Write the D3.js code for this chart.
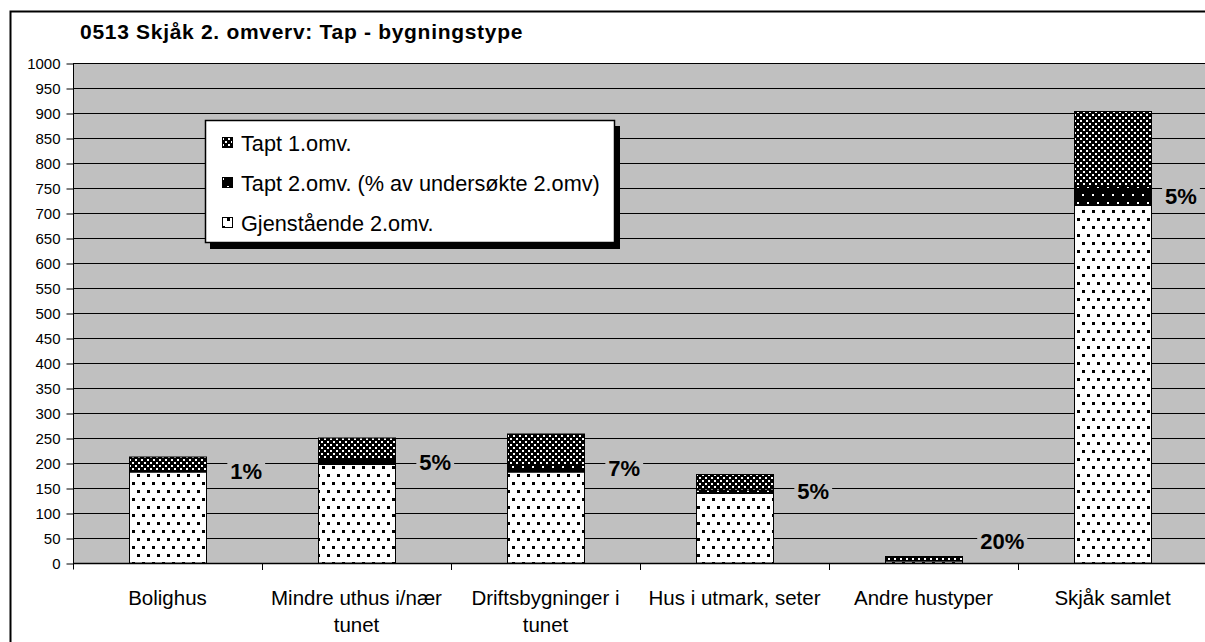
<!DOCTYPE html>
<html><head><meta charset="utf-8">
<script src="https://cdn.jsdelivr.net/npm/d3@7"></script>
<style>
html,body{margin:0;padding:0;background:#fff;}
svg{display:block;font-family:"Liberation Sans",Arial,sans-serif;}
</style></head>
<body><svg id="c" width="1205" height="642"></svg>
<script>
const title = "0513 Skjåk 2. omverv: Tap - bygningstype";
const categories = [["Bolighus"], ["Mindre uthus i/nær","tunet"], ["Driftsbygninger i","tunet"], ["Hus i utmark, seter"], ["Andre hustyper"], ["Skjåk samlet"]];
const gjenstaende = [182, 197, 182, 139, 4, 715];
const tapt2 = [2, 10, 14, 7, 1, 38];
const tapt1 = [28, 43, 62, 31, 8, 150];
const pctLabels = ["1%", "5%", "7%", "5%", "20%", "5%"];
const seriesNames = ["Tapt 1.omv.", "Tapt 2.omv. (% av undersøkte 2.omv)", "Gjenstående 2.omv."];
const yTicks = d3.range(0, 1001, 50);

const svg = d3.select("#c");
const defs = svg.append("defs");
// patterns
const pG = defs.append("pattern").attr("id","pG").attr("patternUnits","userSpaceOnUse").attr("width",10).attr("height",16);
pG.append("rect").attr("width",10).attr("height",16).attr("fill","#fff");
pG.append("rect").attr("x",2).attr("y",2).attr("width",3).attr("height",3).attr("fill","#000");
pG.append("rect").attr("x",7).attr("y",10).attr("width",3).attr("height",3).attr("fill","#000");
const p2 = defs.append("pattern").attr("id","p2").attr("patternUnits","userSpaceOnUse").attr("width",10).attr("height",16);
p2.append("rect").attr("width",10).attr("height",16).attr("fill","#000");
p2.append("rect").attr("x",2).attr("y",2).attr("width",2).attr("height",2).attr("fill","#fff");
p2.append("rect").attr("x",7).attr("y",10).attr("width",2).attr("height",2).attr("fill","#fff");
const p1 = defs.append("pattern").attr("id","p1").attr("patternUnits","userSpaceOnUse").attr("width",6).attr("height",6);
p1.append("rect").attr("width",6).attr("height",6).attr("fill","#000");
p1.append("rect").attr("x",0).attr("y",0).attr("width",2).attr("height",2).attr("fill","#fff");
p1.append("rect").attr("x",3).attr("y",3).attr("width",2).attr("height",2).attr("fill","#fff");
const fills = ["url(#p1)", "url(#p2)", "url(#pG)"];

// outer frame
svg.append("rect").attr("x",10.5).attr("y",11.5).attr("width",1300).attr("height",700)
  .attr("fill","#fff").attr("stroke","#000").attr("stroke-width",2);

svg.append("text").attr("x",80).attr("y",39).attr("font-size",21).attr("font-weight","bold")
  .attr("letter-spacing",0.7).text(title);

const pLeft = 73, pTop = 63, pBottom = 563, step = 189;
const x = d3.scaleBand().domain(d3.range(categories.length)).range([pLeft, pLeft + step*categories.length]).padding(0);
const y = d3.scaleLinear().domain([0,1000]).range([pBottom, pTop]);
const barW = x.bandwidth()*0.41;

svg.append("rect").attr("x",pLeft).attr("y",pTop).attr("width",1300).attr("height",pBottom-pTop).attr("fill","#c0c0c0");

// gridlines
svg.append("g").selectAll("line").data(yTicks.filter(d=>d>0)).join("line")
  .attr("x1",pLeft).attr("x2",1300).attr("y1",d=>Math.round(y(d))+0.5).attr("y2",d=>Math.round(y(d))+0.5)
  .attr("stroke","#000").attr("stroke-width",1);

// y axis
const yAxis = d3.axisLeft(y).tickValues(yTicks).tickFormat(d3.format("d")).tickSize(7).tickPadding(6).tickSizeOuter(0);
const gy = svg.append("g").attr("transform",`translate(${pLeft+0.5},0.5)`).call(yAxis);
gy.select(".domain").attr("stroke","#000").attr("d",`M0,${pTop}V${pBottom+6}`);
gy.selectAll("text").attr("font-size",15).attr("font-family","Liberation Sans, Arial, sans-serif").attr("fill","#000");
gy.selectAll(".tick line").attr("stroke","#000");

// x axis
svg.append("line").attr("x1",pLeft).attr("x2",1300).attr("y1",pBottom+0.5).attr("y2",pBottom+0.5).attr("stroke","#000").attr("stroke-width",1.5);
svg.append("g").selectAll("line").data(d3.range(1,categories.length)).join("line")
  .attr("x1",d=>x(d)+0.5).attr("x2",d=>x(d)+0.5).attr("y1",pBottom).attr("y2",pBottom+7).attr("stroke","#000");
const xl = svg.append("g").selectAll("text").data(categories).join("text")
  .attr("text-anchor","middle").attr("font-size",20.5)
  .attr("x",(d,i)=>x(i)+x.bandwidth()/2).attr("y",605);
xl.each(function(d){
  const t = d3.select(this);
  d.forEach((line,j)=>t.append("tspan").attr("x",t.attr("x")).attr("dy",j===0?0:27).text(line));
});

// stacked bars
const stacks = categories.map((c,i)=>{
  const segs = [gjenstaende[i], tapt2[i], tapt1[i]];
  let acc = 0;
  return segs.map((v,k)=>{ const s = {i, k, y0: acc, y1: acc+v}; acc += v; return s; });
});
const fillOf = [fills[2], fills[1], fills[0]];
const bars = svg.append("g");
stacks.forEach(st=>{
  bars.selectAll(null).data(st).join("rect")
    .attr("x",d=>Math.round(x(d.i)+x.bandwidth()/2-barW/2)+0.5)
    .attr("width",Math.round(barW))
    .attr("y",d=>y(d.y1)).attr("height",d=>y(d.y0)-y(d.y1))
    .attr("fill",d=>fillOf[d.k]).attr("stroke","#000").attr("stroke-width",1);
});

// percent labels
const lg = svg.append("g");
pctLabels.forEach((lab,i)=>{
  const mid = y(gjenstaende[i] + tapt2[i]/2);
  const cy = Math.min(mid, y(0)-22);
  const cx = Math.min(x(i)+x.bandwidth()/2+barW/2+40, 1181);
  const t = lg.append("text").attr("x",cx).attr("y",cy).attr("text-anchor","middle")
    .attr("dominant-baseline","central").attr("font-size",22).attr("font-weight","bold").attr("fill","#000").text(lab);
  const w = t.node().getComputedTextLength();
  lg.insert("rect","text").attr("x",cx-w/2-3).attr("y",cy-15).attr("width",w+6).attr("height",30).attr("fill","#c0c0c0");
});

// legend
const L = svg.append("g");
L.append("rect").attr("x",210).attr("y",126).attr("width",410).attr("height",123).attr("fill","#000");
L.append("rect").attr("x",205.5).attr("y",120.5).attr("width",409).attr("height",122).attr("fill","#fff").attr("stroke","#000").attr("stroke-width",1.5);
const ly = [143, 183, 223];
seriesNames.forEach((n,k)=>{
  L.append("rect").attr("x",222.5).attr("y",ly[k]-5.5).attr("width",10).attr("height",10).attr("fill",fills[k]).attr("stroke","#000");
  L.append("text").attr("x",241).attr("y",ly[k]).attr("dominant-baseline","central").attr("font-size",21.7).attr("fill","#000").text(n);
});
</script></body></html>
